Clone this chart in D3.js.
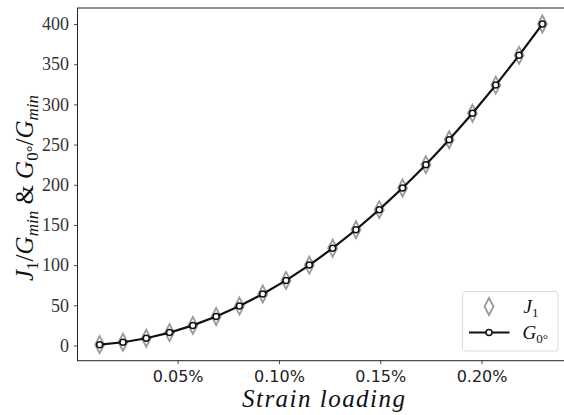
<!DOCTYPE html>
<html>
<head>
<meta charset="utf-8">
<script src="https://cdn.jsdelivr.net/npm/d3@7/dist/d3.min.js"></script>
<style>
  html, body { margin: 0; padding: 0; background: #fff; }
  svg { display: block; }
</style>
</head>
<body>
<svg id="chart" width="564" height="415"></svg>
<script>
// strain loading in percent, one point per load step
const strain = [0.0115, 0.023, 0.0345, 0.046, 0.0575, 0.069, 0.0805, 0.092, 0.1035, 0.115,
                0.1265, 0.138, 0.1495, 0.161, 0.1725, 0.184, 0.1955, 0.207, 0.2185, 0.23];
const j1Values = [1, 4, 9, 16, 25, 36, 49, 64, 81, 100, 121, 144, 169, 196, 225, 256, 289, 324, 361, 400];
const g0Values = [1, 4, 9, 16, 25, 36, 49, 64, 81, 100, 121, 144, 169, 196, 225, 256, 289, 324, 361, 400];
const xTicks = [0.05, 0.10, 0.15, 0.20];
const yTicks = [0, 50, 100, 150, 200, 250, 300, 350, 400];

const svg = d3.select("#chart");
const plot = { left: 77.5, right: 564.5, top: 8, bottom: 360.7 };

const serif = "'Liberation Serif', 'DejaVu Serif', serif";
const sans  = "'DejaVu Sans', 'Liberation Sans', sans-serif";

const x = d3.scaleLinear().domain([0.000575, 0.240925]).range([plot.left, plot.right]);
const y = d3.scaleLinear().domain([-18.95, 419.95]).range([plot.bottom, plot.top]);

// axes
const xAxis = svg.append("g")
  .attr("transform", `translate(0,${plot.bottom})`)
  .call(d3.axisBottom(x).tickValues(xTicks).tickSize(3.5).tickPadding(6)
    .tickFormat(d => d.toFixed(2) + "%"));
xAxis.select(".domain").remove();
xAxis.selectAll("text").attr("font-family", sans).attr("font-size", 16).attr("fill", "#222");

const yAxis = svg.append("g")
  .attr("transform", `translate(${plot.left},0)`)
  .call(d3.axisLeft(y).tickValues(yTicks).tickSize(3.5).tickPadding(5));
yAxis.select(".domain").remove();
yAxis.selectAll("text").attr("font-family", serif).attr("font-size", 18).attr("fill", "#333");
svg.selectAll(".tick line").attr("stroke", "#222").attr("stroke-width", 0.8);

// frame
svg.append("rect")
  .attr("x", plot.left).attr("y", plot.top)
  .attr("width", plot.right - plot.left).attr("height", plot.bottom - plot.top)
  .attr("fill", "none").attr("stroke", "#222").attr("stroke-width", 1);

const diamond = (cx, cy) => `M${cx},${cy - 8.5}L${cx + 4.5},${cy}L${cx},${cy + 8.5}L${cx - 4.5},${cy}Z`;

// J1 diamonds
svg.append("g").selectAll("path")
  .data(strain.map((s, i) => [s, j1Values[i]]))
  .join("path")
  .attr("d", d => diamond(x(d[0]), y(d[1])))
  .attr("fill", "none").attr("stroke", "#999").attr("stroke-width", 1.8);

// G0 line + circles
const pts = strain.map((s, i) => [s, g0Values[i]]);
svg.append("path")
  .datum(pts)
  .attr("d", d3.line().x(d => x(d[0])).y(d => y(d[1])))
  .attr("fill", "none").attr("stroke", "#111").attr("stroke-width", 2.2);
svg.append("g").selectAll("circle")
  .data(pts)
  .join("circle")
  .attr("cx", d => x(d[0])).attr("cy", d => y(d[1])).attr("r", 3)
  .attr("fill", "#fff").attr("stroke", "#111").attr("stroke-width", 1.5);

// axis labels
svg.append("text")
  .attr("x", 323.5).attr("y", 407)
  .attr("text-anchor", "middle")
  .attr("font-family", serif).attr("font-style", "italic").attr("font-size", 25)
  .attr("textLength", 163).attr("lengthAdjust", "spacing")
  .attr("fill", "#111")
  .text("Strain loading");

const yl = svg.append("text")
  .attr("transform", "translate(33,188) rotate(-90)")
  .attr("text-anchor", "middle")
  .attr("font-family", serif).attr("font-size", 25).attr("fill", "#111");
const parts = [
  ["J", "italic", 0], ["1", "normal", 1], ["/", "normal", 0], ["G", "italic", 0], ["min", "italic", 1],
  ["\u00a0&\u00a0", "normal", 0], ["G", "italic", 0], ["0°", "normal", 1], ["/", "normal", 0],
  ["G", "italic", 0], ["min", "italic", 1]
];
let prevSub = 0;
parts.forEach(([t, st, sub]) => {
  const ts = yl.append("tspan").attr("font-style", st).text(t);
  if (sub) ts.attr("font-size", 17);
  const dy = (sub ? 5 : 0) - (prevSub ? 5 : 0);
  if (dy) ts.attr("dy", dy);
  prevSub = sub;
});

// legend
const lg = svg.append("g").attr("transform", "translate(462.5,291.5)");
lg.append("rect").attr("width", 95.5).attr("height", 59.5).attr("rx", 3)
  .attr("fill", "rgba(255,255,255,0.85)").attr("stroke", "#dcdcdc").attr("stroke-width", 1);
lg.append("path").attr("d", diamond(26.5, 15))
  .attr("fill", "none").attr("stroke", "#999").attr("stroke-width", 1.8);
lg.append("line").attr("x1", 6.5).attr("x2", 47).attr("y1", 41).attr("y2", 41)
  .attr("stroke", "#111").attr("stroke-width", 2.2);
lg.append("circle").attr("cx", 26.5).attr("cy", 41).attr("r", 3)
  .attr("fill", "#fff").attr("stroke", "#111").attr("stroke-width", 1.5);
const lt1 = lg.append("text").attr("x", 61).attr("y", 21).attr("font-family", serif).attr("font-size", 19).attr("fill", "#111");
lt1.append("tspan").attr("font-style", "italic").text("J");
lt1.append("tspan").attr("font-size", 13).attr("dy", 4).text("1");
const lt2 = lg.append("text").attr("x", 60).attr("y", 47).attr("font-family", serif).attr("font-size", 19).attr("fill", "#111");
lt2.append("tspan").attr("font-style", "italic").text("G");
lt2.append("tspan").attr("font-size", 13).attr("dy", 4).text("0°");
</script>
</body>
</html>
